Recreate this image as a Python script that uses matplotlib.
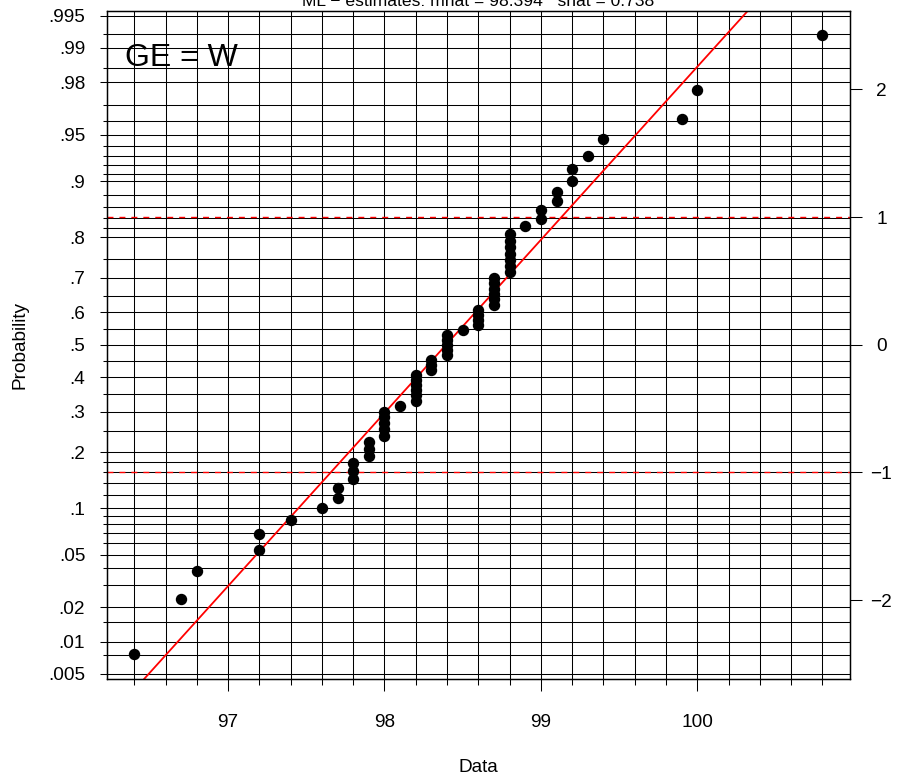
import numpy as np
import matplotlib
matplotlib.use("Agg")
import matplotlib.pyplot as plt
from matplotlib.ticker import FixedLocator, FixedFormatter, NullFormatter
from statistics import NormalDist

plt.rcParams['font.family'] = ['Liberation Sans', 'DejaVu Sans']
plt.rcParams['axes.unicode_minus'] = True

# Body temperatures (deg F), sorted
temps = [96.4, 96.7, 96.8, 97.2, 97.2, 97.4, 97.6, 97.7, 97.7,
         97.8, 97.8, 97.8, 97.9, 97.9, 97.9,
         98.0, 98.0, 98.0, 98.0, 98.0, 98.1,
         98.2, 98.2, 98.2, 98.2, 98.2, 98.2,
         98.3, 98.3, 98.3,
         98.4, 98.4, 98.4, 98.4, 98.4, 98.5,
         98.6, 98.6, 98.6, 98.6,
         98.7, 98.7, 98.7, 98.7, 98.7, 98.7,
         98.8, 98.8, 98.8, 98.8, 98.8, 98.8, 98.8,
         98.9, 99.0, 99.0, 99.1, 99.1, 99.2, 99.2, 99.3, 99.4,
         99.9, 100.0, 100.8]

# probability-paper grid
prob_major = [0.005, 0.01, 0.02, 0.05, 0.1, 0.2, 0.3, 0.4, 0.5,
              0.6, 0.7, 0.8, 0.9, 0.95, 0.98, 0.99, 0.995]
prob_labels = [".005", ".01", ".02", ".05", ".1", ".2", ".3", ".4", ".5",
               ".6", ".7", ".8", ".9", ".95", ".98", ".99", ".995"]
prob_minor = [0.0075, 0.015, 0.03, 0.04, 0.06, 0.07, 0.08, 0.09,
              0.12, 0.14, 0.16, 0.18, 0.25, 0.35, 0.45,
              0.55, 0.65, 0.75, 0.82, 0.84, 0.86, 0.88,
              0.91, 0.92, 0.93, 0.94, 0.96, 0.97, 0.985, 0.9925]
z_ticks = [-2, -1, 0, 1, 2]
x_major = [97, 98, 99, 100]
x_minor = [96.4, 96.6, 96.8, 97.2, 97.4, 97.6, 97.8, 98.2, 98.4, 98.6, 98.8,
           99.2, 99.4, 99.6, 99.8, 100.2, 100.4, 100.6, 100.8]
sigma_lines = [-1, 1]
panel_label = "GE = W"

nd = NormalDist()
x = np.sort(np.array(temps))
n = len(x)
pp = (np.arange(1, n + 1) - 0.5) / n
z = np.array([nd.inv_cdf(p) for p in pp])

mhat = x.mean()
shat = np.sqrt(np.mean((x - mhat) ** 2))

def padded(lo, hi, f=0.04):
    d = (hi - lo) * f
    return lo - d, hi + d

xlim = padded(x.min(), x.max())
ylim = padded(z.min(), z.max())

W, H = 900, 780
fig = plt.figure(figsize=(9, 7.8), dpi=100)
L, R, T, B = 106.7, 850.0, 10.5, 679.0
ax = fig.add_axes([L / W, 1 - B / H, (R - L) / W, (B - T) / H])
ax.set_xlim(*xlim)
ax.set_ylim(*ylim)

to_z = lambda ps: [nd.inv_cdf(p) for p in ps]
ax.yaxis.set_major_locator(FixedLocator(to_z(prob_major)))
ax.yaxis.set_major_formatter(FixedFormatter(prob_labels))
ax.yaxis.set_minor_locator(FixedLocator(to_z(prob_minor)))
ax.yaxis.set_minor_formatter(NullFormatter())
ax.xaxis.set_major_locator(FixedLocator(x_major))
ax.xaxis.set_minor_locator(FixedLocator(x_minor))
ax.xaxis.set_minor_formatter(NullFormatter())

ax.set_axisbelow(True)
ax.grid(True, which='both', color='black', lw=0.75)

ax.tick_params(axis='y', which='major', length=5, width=0.75, labelsize=13.7, pad=10.5)
ax.tick_params(axis='y', which='minor', length=2.9, width=0.75)
ax.tick_params(axis='x', which='major', length=8.6, width=0.75, labelsize=13.7, pad=16.5)
ax.tick_params(axis='x', which='minor', length=4.3, width=0.75)
for s in ax.spines.values():
    s.set_linewidth(1.0)

for zl in sigma_lines:
    ax.axhline(zl, color='red', lw=1.0, ls=(0, (4.3, 4.3)), zorder=1.5)

zz = np.array(ylim)
ax.plot(mhat + shat * zz, zz, color='red', lw=1.3, zorder=2)
ax.plot(x, z, 'o', color='black', ms=7.2, zorder=3)

ax2 = ax.twinx()
ax2.set_ylim(*ylim)
ax2.set_yticks(z_ticks)
ax2.set_yticklabels([f"{v}".replace("-", "\u2212") for v in z_ticks])
ax2.tick_params(axis='y', length=8.6, width=0.75, labelsize=13.7, pad=14)
for tl in ax2.get_yticklabels():
    tl.set_horizontalalignment('center')

fig.text((L + R) / 2 / W, 1 - 6 / H,
         f"ML \u2212 estimates: mhat = {mhat:.3f}   shat = {shat:.3f}",
         ha='center', va='baseline', fontsize=12.6)
fig.text(125 / W, 1 - 66 / H, panel_label, ha='left', va='baseline', fontsize=23)
fig.text(20 / W, 1 - 345 / H, "Probability", rotation=90, ha='center', va='center', fontsize=13.7)
fig.text((L + R) / 2 / W, 1 - 767 / H, "Data", ha='center', va='center', fontsize=13.7)

fig.savefig("out.png", dpi=100)
